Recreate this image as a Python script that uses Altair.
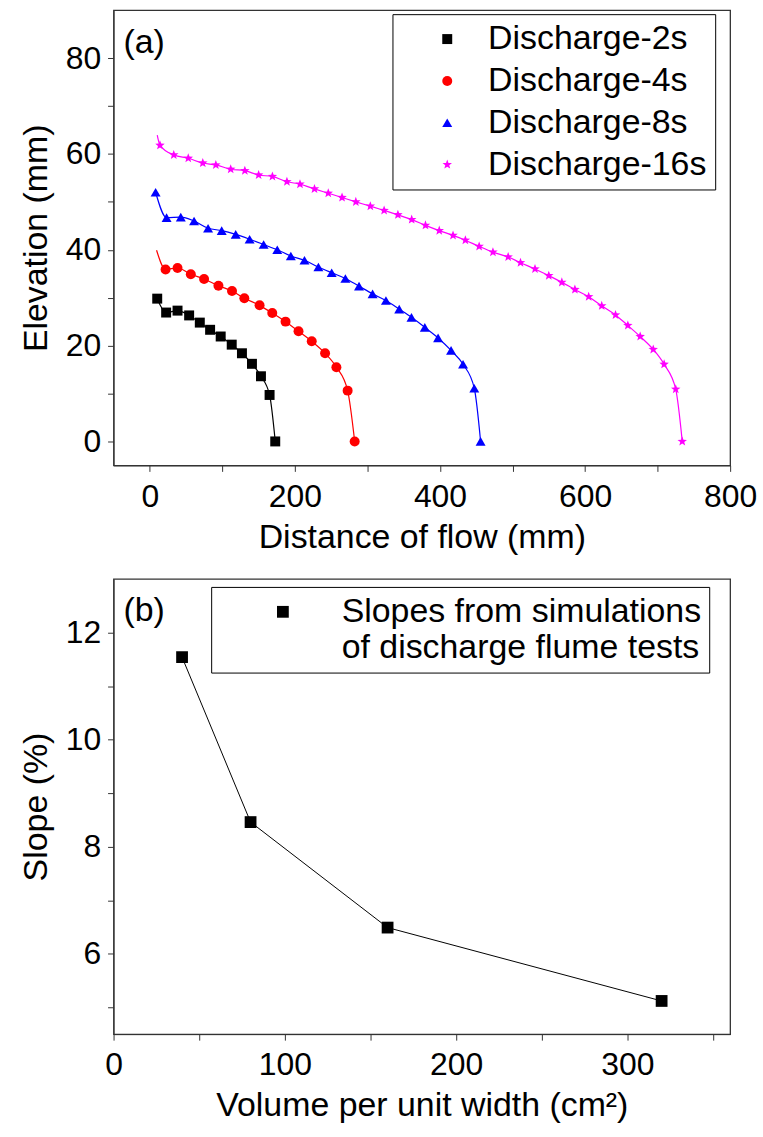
import math
import altair as alt
import pandas as pd

FONT = "Liberation Sans"
AX = "#333333"

# ---------------- data: panel (a) ----------------
names_a = ["Discharge-2s", "Discharge-4s", "Discharge-8s", "Discharge-16s"]
colors_a = ["#000000", "#ff0000", "#0000ff", "#ff00ff"]

s2_x = [10.2, 22.5, 38.2, 54.2, 68.9, 83.1, 97.7, 112.9, 127.0, 140.8, 153.2, 165.1, 172.9]
s2_y = [29.8, 26.9, 27.3, 26.3, 24.8, 23.3, 21.9, 20.2, 18.4, 16.2, 13.6, 9.7, 0.0]
s2_start = []

s4_x = [21.7, 38.2, 56.5, 74.8, 94.6, 113.3, 130.3, 151.3, 168.8, 187.1, 205.0, 223.2,
        241.6, 257.2, 272.7, 282.4]
s4_y = [35.9, 36.2, 34.9, 33.9, 32.5, 31.4, 29.9, 28.4, 26.8, 25.0, 23.0, 20.9,
        18.4, 15.5, 10.6, 0.0]
s4_start = [(9.3, 39.9)]

s8_x = [8.0, 23.1, 42.7, 61.0, 80.3, 99.1, 118.4, 137.6, 156.9, 175.7, 194.4, 213.2, 232.4,
        250.7, 269.6, 288.4, 307.1, 325.5, 343.8, 360.7, 379.1, 397.4, 415.3, 431.8, 447.3, 456.0]
s8_y = [52.0, 46.7, 46.8, 46.0, 44.5, 44.0, 43.2, 42.2, 41.1, 40.0, 38.7, 37.8, 36.4,
        35.2, 34.0, 32.4, 30.8, 29.4, 27.6, 25.9, 23.8, 21.6, 19.0, 16.1, 11.1, 0.0]
s8_start = []

s16_x = [14, 33, 53, 73, 91, 111.5, 131, 150, 169, 189, 207, 227, 246, 265, 284, 304, 323,
         342, 361, 380, 399, 418, 435, 454, 473, 494, 511, 531, 550, 568, 586, 605, 623,
         642, 659, 676, 694, 709, 725, 734]
s16_y = [61.8, 59.8, 59.1, 58.1, 57.7, 56.8, 56.5, 55.6, 55.3, 54.2, 53.7, 52.7, 51.8,
         50.9, 50.0, 49.1, 48.2, 47.3, 46.3, 45.1, 44.0, 43.0, 42.0, 40.7, 39.5, 38.5,
         37.3, 36.0, 34.6, 33.2, 31.7, 30.2, 28.3, 26.4, 24.2, 21.9, 19.2, 16.1, 10.9, 0.0]
s16_start = [(10.2, 63.9)]

# ---------------- data: panel (b) ----------------
name_b = ["Slopes from simulations of discharge flume tests"]
volume = [40, 80, 160, 320]
slope = [11.54, 8.46, 6.49, 5.12]

panel_labels = ["(a)", "(b)"]

xa_ticks = [0, 100, 200, 300, 400, 500, 600, 700, 800]
ya_ticks = [0, 10, 20, 30, 40, 50, 60, 70, 80]
xb_ticks = [0, 50, 100, 150, 200, 250, 300, 350]
yb_ticks = [5, 6, 7, 8, 9, 10, 11, 12]

W, H = 619, 457


def mk_axis(values, major, title, label_pad, title_pad):
    return alt.Axis(values=values, tickSize=6, grid=False,
                    domainColor=AX, tickColor=AX,
                    labelExpr="datum.value % " + str(major) + " == 0 ? datum.label : ''",
                    labelFontSize=32, labelFont=FONT, labelColor="black",
                    labelPadding=label_pad, labelFlush=False,
                    title=title, titleFont=FONT, titleFontSize=34, titleFontWeight="normal",
                    titleColor="black", titlePadding=title_pad)


# star marker as a custom unit-square path
star_pts = []
for i in range(10):
    ang = math.radians(-90 + 36 * i)
    rr = 1.0 if i % 2 == 0 else 0.42
    star_pts.append((round(rr * math.cos(ang), 3), round(rr * math.sin(ang), 3)))
STAR = "M" + "L".join(f"{a},{b}" for a, b in star_pts) + "Z"
shapes_a = ["square", "circle", "triangle-up", STAR]
sizes_a = [100, 100, 150, 190]

# ---------------- panel (a) ----------------
xs_a = alt.Scale(domain=[-50, 800], nice=False, zero=False)
ys_a = alt.Scale(domain=[-5, 90], nice=False, zero=False)
ax_xa = mk_axis(xa_ticks, 200, "Distance of flow (mm)", 10, 8)
ax_ya = mk_axis(ya_ticks, 20, "Elevation (mm)", 7, 12)

series = [(s2_x, s2_y, s2_start), (s4_x, s4_y, s4_start),
          (s8_x, s8_y, s8_start), (s16_x, s16_y, s16_start)]

layers_a = []
pt_rows = []
for nm, col, (sx, sy, st) in zip(names_a, colors_a, series):
    ldf = pd.DataFrame({"x": [p[0] for p in st] + sx, "y": [p[1] for p in st] + sy})
    layers_a.append(
        alt.Chart(ldf).mark_line(color=col, strokeWidth=1.2, interpolate="monotone").encode(
            x=alt.X("x:Q", scale=xs_a, axis=ax_xa),
            y=alt.Y("y:Q", scale=ys_a, axis=ax_ya)))
    for a, b in zip(sx, sy):
        pt_rows.append({"series": nm, "x": a, "y": b})
pt_df = pd.DataFrame(pt_rows)

leg_a = alt.Legend(orient="none", legendX=280, legendY=4, title=None,
                   symbolSize=120, symbolStrokeWidth=0, symbolOffset=30, labelOffset=24,
                   labelFont=FONT, labelFontSize=34, labelColor="black", labelLimit=400,
                   strokeColor="black", fillColor="white", padding=8, rowPadding=8)

points_a = alt.Chart(pt_df).mark_point(filled=True, opacity=1).encode(
    x=alt.X("x:Q", scale=xs_a, axis=ax_xa),
    y=alt.Y("y:Q", scale=ys_a, axis=ax_ya),
    color=alt.Color("series:N", scale=alt.Scale(domain=names_a, range=colors_a), legend=leg_a),
    shape=alt.Shape("series:N", scale=alt.Scale(domain=names_a, range=shapes_a), legend=leg_a),
    size=alt.Size("series:N", scale=alt.Scale(domain=names_a, range=sizes_a), legend=None),
)

text_a = alt.Chart(pd.DataFrame({"t": [panel_labels[0]]})).mark_text(
    align="left", baseline="middle", font=FONT, fontSize=34, color="black").encode(
    text="t:N", x=alt.value(10), y=alt.value(33))

panel_a = alt.layer(*layers_a, points_a, text_a).properties(width=W, height=H)

# ---------------- panel (b) ----------------
xs_b = alt.Scale(domain=[0, 360], nice=False, zero=False)
ys_b = alt.Scale(domain=[4.5, 13], nice=False, zero=False)
ax_xb = mk_axis(xb_ticks, 100, "Volume per unit width (cm\u00b2)", 10, 8)
ax_yb = mk_axis(yb_ticks, 2, "Slope (%)", 7, 12)

bdf = pd.DataFrame({"series_b": name_b * len(volume), "v": volume, "s": slope})

leg_b = alt.Legend(orient="none", legendX=98, legendY=8, title=None,
                   symbolSize=140, symbolStrokeWidth=0,
                   labelFont=FONT, labelFontSize=34, labelColor="black", labelLimit=600,
                   labelExpr="['Slopes from simulations', 'of discharge flume tests']",
                   strokeColor="black", fillColor="white", padding=8, symbolOffset=47,
                   labelOffset=42)

line_b = alt.Chart(bdf).mark_line(color="black", strokeWidth=1).encode(
    x=alt.X("v:Q", scale=xs_b, axis=ax_xb), y=alt.Y("s:Q", scale=ys_b, axis=ax_yb))

pts_b = alt.Chart(bdf).mark_point(filled=True, size=140, opacity=1).encode(
    x=alt.X("v:Q", scale=xs_b, axis=ax_xb),
    y=alt.Y("s:Q", scale=ys_b, axis=ax_yb),
    color=alt.Color("series_b:N", scale=alt.Scale(domain=name_b, range=["#000000"]), legend=leg_b),
    shape=alt.Shape("series_b:N", scale=alt.Scale(domain=name_b, range=["square"]), legend=leg_b),
)

text_b = alt.Chart(pd.DataFrame({"t": [panel_labels[1]]})).mark_text(
    align="left", baseline="middle", font=FONT, fontSize=34, color="black").encode(
    text="t:N", x=alt.value(10), y=alt.value(32))

panel_b = alt.layer(line_b, pts_b, text_b).properties(width=W, height=H)

chart = alt.vconcat(panel_a, panel_b, spacing=23).resolve_scale(
    color="independent", shape="independent", size="independent"
).properties(
    padding={"left": 18, "top": 7, "right": 5, "bottom": 5}
).configure_view(stroke=AX, strokeWidth=1.3)

chart.save("out.html", embed_options={"renderer": "svg", "actions": False})
